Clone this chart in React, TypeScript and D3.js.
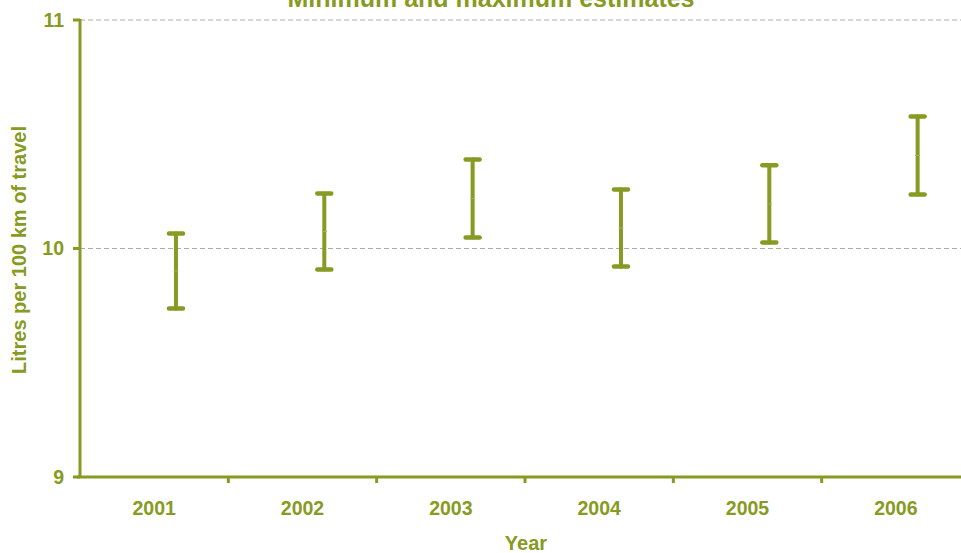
import React from "react";
import * as d3 from "d3";

const years = ["2001", "2002", "2003", "2004", "2005", "2006"];
const minValues = [9.737, 9.908, 10.048, 9.921, 10.026, 10.236];
const maxValues = [10.066, 10.241, 10.39, 10.258, 10.364, 10.578];
const yTicks = [9, 10, 11];
const gridTicks = [10, 11];

const W = 961;
const H = 553;
const COLOR = "#879a22";
const FONT = "'Liberation Sans', Arial, sans-serif";

export default function App() {
  const margin = { left: 80, top: 20, bottom: 76 };
  const plotRight = 970;
  const x = d3.scaleBand<string>().domain(years).range([margin.left, plotRight]).padding(0);
  const y = d3.scaleLinear().domain([9, 11]).range([H - margin.bottom, margin.top]);
  const bw = x.bandwidth();
  const barOffset = bw * 0.647;
  const capHalf = 7;
  const y0 = y(9);

  return (
    <svg width={W} height={H} style={{ position: "absolute", left: 0, top: 0, display: "block" }} fontFamily={FONT}>
      <rect width={W} height={H} fill="#fff" />
      <text x={491} y={7} textAnchor="middle" fontSize={25} fontWeight="bold" fill={COLOR}>
        Minimum and maximum estimates
      </text>
      {gridTicks.map((t) => (
        <line key={t} x1={margin.left} x2={W} y1={y(t)} y2={y(t)} stroke="#aaa" strokeWidth={1} strokeDasharray="5,3" />
      ))}
      {/* y axis */}
      <line x1={margin.left} x2={margin.left} y1={y(11) - 1} y2={y0 + 1} stroke={COLOR} strokeWidth={3} />
      {yTicks.map((t) => (
        <g key={t}>
          <line x1={margin.left - 7} x2={margin.left} y1={y(t)} y2={y(t)} stroke={COLOR} strokeWidth={3} />
          <text x={64} y={y(t)} dy="0.35em" textAnchor="end" fontSize={19.5} fontWeight="bold" fill={COLOR}>
            {t}
          </text>
        </g>
      ))}
      {/* x axis */}
      <line x1={margin.left - 3} x2={W} y1={y0} y2={y0} stroke={COLOR} strokeWidth={3} />
      {years.map((yr) => (
        <g key={yr}>
          <line x1={(x(yr) as number) + bw} x2={(x(yr) as number) + bw} y1={y0} y2={y0 + 6} stroke={COLOR} strokeWidth={3} />
          <text x={(x(yr) as number) + bw / 2} y={y0 + 31} dy="0.35em" textAnchor="middle" fontSize={19.5} fontWeight="bold" fill={COLOR}>
            {yr}
          </text>
        </g>
      ))}
      {/* error bars */}
      {years.map((yr, i) => {
        const cx = (x(yr) as number) + barOffset;
        const mid = (minValues[i] + maxValues[i]) / 2;
        return (
          <g key={yr} stroke={COLOR} strokeLinecap="round">
            <line x1={cx} x2={cx} y1={y(maxValues[i])} y2={y(minValues[i])} strokeWidth={4} />
            <line x1={cx - capHalf} x2={cx + capHalf} y1={y(maxValues[i])} y2={y(maxValues[i])} strokeWidth={4.5} />
            <line x1={cx - capHalf} x2={cx + capHalf} y1={y(minValues[i])} y2={y(minValues[i])} strokeWidth={4.5} />
            <line x1={cx - 2} x2={cx + 2} y1={y(mid)} y2={y(mid)} strokeWidth={1} stroke="#a3b35a" />
          </g>
        );
      })}
      <text transform={`translate(19,250) rotate(-90)`} textAnchor="middle" dy="0.35em" fontSize={20} fontWeight="bold" fill={COLOR}>
        Litres per 100 km of travel
      </text>
      <text x={526} y={543} dy="0.35em" textAnchor="middle" fontSize={20} fontWeight="bold" fill={COLOR}>
        Year
      </text>
    </svg>
  );
}
